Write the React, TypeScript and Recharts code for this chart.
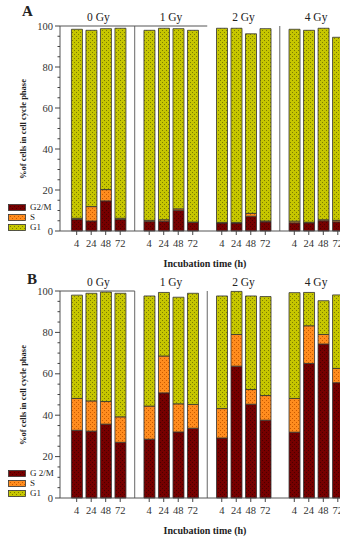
import { Bar, BarChart, ReferenceLine, XAxis, YAxis } from 'recharts';

const hours = ['4', '24', '48', '72'];
const doses = ['0 Gy', '1 Gy', '2 Gy', '4 Gy'];

// panel A, % of cells per phase (4, 24, 48, 72 h for each dose)
const g2mA = [5.6, 4.9, 14.7, 5.6, 4.6, 4.8, 10.1, 4.2, 3.9, 3.9, 7.2, 4.5, 4.0, 4.0, 5.0, 4.5];
const sA = [0.6, 7.0, 5.5, 0.6, 0.6, 0.7, 0.7, 0.2, 0.3, 0.3, 1.4, 0.4, 0.8, 0.3, 0.5, 0.7];
const g1A = [92.2, 86.0, 78.5, 92.7, 92.7, 93.4, 87.9, 93.5, 94.7, 94.7, 87.6, 93.8, 93.6, 93.6, 93.4, 89.3];

// panel B
const g2mB = [32.7, 32.3, 35.7, 26.9, 28.4, 50.8, 31.9, 33.7, 29.0, 63.7, 45.3, 37.6, 31.8, 65.0, 74.4, 55.7];
const sB = [15.4, 14.6, 10.9, 12.3, 16.0, 17.8, 13.6, 11.5, 14.2, 15.3, 7.1, 11.9, 16.3, 18.2, 4.6, 6.9];
const g1B = [49.9, 52.0, 52.9, 59.7, 53.2, 30.7, 51.5, 53.7, 54.4, 20.8, 45.2, 47.8, 51.1, 16.1, 16.3, 35.5];

const yTicks = [0, 5, 10, 15, 20, 25, 30, 35, 40, 45, 50, 55, 60, 65, 70, 75, 80, 85, 90, 95, 100];

const FONT = '"Liberation Serif", "DejaVu Serif", serif';

const barPos = doses.flatMap((_, g) => hours.map((_, i) => g * 5 + i));
const groupCenters = doses.map((_, g) => g * 5 + 1.5);
const X_DOMAIN: [number, number] = [-1.15, 20.15];

const buildRows = (g2m: number[], s: number[], g1: number[]) =>
  barPos.map((pos, k) => ({ pos, hour: hours[k % 4], g2m: g2m[k], s: s[k], g1: g1[k] }));

const hourAt = (v: number) => hours[Math.round(v) % 5] ?? '';
const doseAt = (v: number) => doses[Math.round((v - 1.5) / 5)] ?? '';

function YTick({ x, y, payload }: any) {
  const major = payload.value % 20 === 0;
  return (
    <g>
      <line x1={x - (major ? 5 : 2.5)} x2={x} y1={y} y2={y} stroke="#444" strokeWidth={1} />
      {major && (
        <text x={x - 7} y={y} textAnchor="end" dominantBaseline="central" fontSize={10.5} fill="#333" fontFamily={FONT}>
          {payload.value}
        </text>
      )}
    </g>
  );
}

function Patterns() {
  return (
    <svg width={0} height={0} style={{ position: 'absolute' }}>
      <defs>
        <pattern id="patG1" width={4} height={4} patternUnits="userSpaceOnUse">
          <rect width={4} height={4} fill="#c6c600" />
          <rect x={0} y={0} width={1} height={1} fill="#7c7c00" />
          <rect x={2} y={2} width={1} height={1} fill="#7c7c00" />
        </pattern>
        <pattern id="patS" width={4} height={4} patternUnits="userSpaceOnUse">
          <rect width={4} height={4} fill="#ff8c1e" />
          <rect x={0} y={0} width={1} height={1} fill="#c85a00" />
          <rect x={2} y={2} width={1} height={1} fill="#c85a00" />
        </pattern>
        <pattern id="patG2M" width={4} height={4} patternUnits="userSpaceOnUse">
          <rect width={4} height={4} fill="#760000" />
          <rect x={0} y={0} width={1} height={1} fill="#4a0000" />
          <rect x={2} y={2} width={1} height={1} fill="#4a0000" />
        </pattern>
      </defs>
    </svg>
  );
}

type PanelProps = {
  letter: string;
  top: number;
  height: number;
  topAxis: number;
  bottomAxis: number;
  g2m: number[];
  s: number[];
  g1: number[];
  separators: number[];
  topLineEnd: number;
  legendNames: string[];
  legendTop: number;
};

function Panel(p: PanelProps) {
  const rows = buildRows(p.g2m, p.s, p.g1);
  const plotTop = p.topAxis;
  const plotBottom = p.height - p.bottomAxis;
  const legend = [
    { name: p.legendNames[0], fill: 'url(#patG2M)' },
    { name: p.legendNames[1], fill: 'url(#patS)' },
    { name: p.legendNames[2], fill: 'url(#patG1)' },
  ];
  return (
    <div style={{ position: 'absolute', left: 0, top: p.top, width: 370, height: p.height }}>
      <BarChart width={370} height={p.height} data={rows} margin={{ top: 0, right: 1, bottom: 0, left: 0 }}>
        <XAxis
          xAxisId="top"
          orientation="top"
          type="number"
          dataKey="pos"
          domain={X_DOMAIN}
          ticks={groupCenters}
          tickFormatter={doseAt}
          height={p.topAxis}
          axisLine={false}
          tickLine={false}
          tickSize={0}
          tickMargin={5}
          interval={0}
          tick={{ fontSize: 11.5, fill: '#222', fontFamily: FONT }}
        />
        <XAxis
          type="number"
          dataKey="pos"
          domain={X_DOMAIN}
          ticks={barPos}
          tickFormatter={hourAt}
          height={p.bottomAxis}
          interval={0}
          tickSize={4}
          tickMargin={5}
          axisLine={{ stroke: '#555' }}
          tickLine={{ stroke: '#444' }}
          tick={{ fontSize: 10.5, fill: '#333', fontFamily: FONT }}
        />
        <YAxis
          domain={[0, 100]}
          ticks={yTicks}
          interval={0}
          width={60}
          tickSize={0}
          tickMargin={0}
          tickLine={false}
          axisLine={{ stroke: '#555' }}
          tick={<YTick />}
        />
        {p.separators.map((x) => (
          <ReferenceLine key={x} x={x} stroke="#666" strokeWidth={1} />
        ))}
        <ReferenceLine
          segment={[
            { x: X_DOMAIN[0], y: 100 },
            { x: p.topLineEnd, y: 100 },
          ]}
          stroke="#555"
          strokeWidth={1}
        />
        <Bar dataKey="g2m" stackId="a" barSize={11} fill="url(#patG2M)" stroke="#333" strokeWidth={0.8} isAnimationActive={false} />
        <Bar dataKey="s" stackId="a" barSize={11} fill="url(#patS)" stroke="#333" strokeWidth={0.8} isAnimationActive={false} />
        <Bar dataKey="g1" stackId="a" barSize={11} fill="url(#patG1)" stroke="#333" strokeWidth={0.8} isAnimationActive={false} />
      </BarChart>

      <div style={{ position: 'absolute', left: p.letter === 'A' ? 22 : 27, top: p.topAxis / 2 - 10, fontSize: 15, fontWeight: 'bold', color: '#222' }}>
        {p.letter}
      </div>
      <div
        style={{
          position: 'absolute',
          left: 23,
          top: (plotTop + plotBottom) / 2,
          transform: 'translate(-50%, -50%) rotate(-90deg)',
          whiteSpace: 'nowrap',
          fontSize: 8.5,
          fontWeight: 'bold',
          color: '#222',
        }}
      >
        %of cells in cell cycle phase
      </div>
      <div
        style={{
          position: 'absolute',
          left: 205,
          top: plotBottom + 27,
          transform: 'translateX(-50%)',
          whiteSpace: 'nowrap',
          fontSize: 10,
          fontWeight: 'bold',
          color: '#222',
          lineHeight: '12px',
        }}
      >
        Incubation time (h)
      </div>
      <div style={{ position: 'absolute', left: 8, top: p.legendTop }}>
        {legend.map((l) => (
          <div key={l.name} style={{ display: 'flex', alignItems: 'center', height: 9.7 }}>
            <svg width={18} height={7}>
              <rect x={0.5} y={0.5} width={17} height={6} fill={l.fill} stroke="#333" strokeWidth={0.8} />
            </svg>
            <span style={{ fontSize: 9, color: '#222', marginLeft: 4, lineHeight: '9px' }}>{l.name}</span>
          </div>
        ))}
      </div>
    </div>
  );
}

export default function App() {
  return (
    <div
      style={{
        position: 'absolute',
        left: 0,
        top: 0,
        width: 340,
        height: 537,
        overflow: 'hidden',
        background: '#fff',
        fontFamily: FONT,
      }}
    >
      <Patterns />
      <Panel
        letter="A"
        top={0}
        height={268}
        topAxis={26}
        bottomAxis={37}
        g2m={g2mA}
        s={sA}
        g1={g1A}
        separators={[4, 14]}
        topLineEnd={9}
        legendNames={['G2/M', 'S', 'G1']}
        legendTop={203}
      />
      <Panel
        letter="B"
        top={270}
        height={267}
        topAxis={21}
        bottomAxis={39}
        g2m={g2mB}
        s={sB}
        g1={g1B}
        separators={[4, 9]}
        topLineEnd={4}
        legendNames={['G 2/M', 'S', 'G1']}
        legendTop={199}
      />
    </div>
  );
}
